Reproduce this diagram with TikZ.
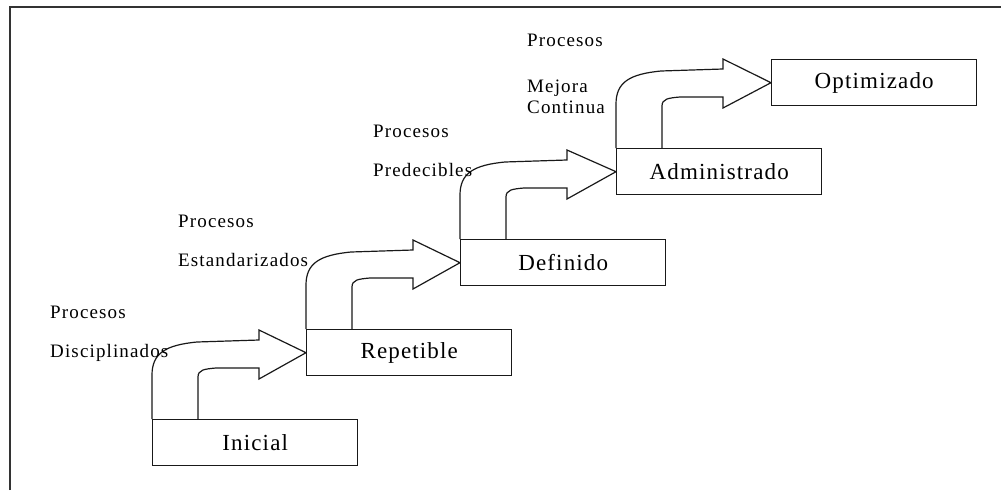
\documentclass[tikz,border=0pt]{standalone}
\usepackage{fontspec}
\setmainfont{Liberation Serif}
\newfontfamily\lblfont[LetterSpace=6]{Liberation Serif}
\newfontfamily\boxfont[LetterSpace=5]{Liberation Serif}
\usetikzlibrary{calc}

% one curved block arrow climbing from a level box to the next one
\newcommand\levelarrow[2]{%
  \begin{scope}[shift={(#1.north west)}]
    \draw[stairarrow] (0,0) -- (0,-44)
      .. controls (0,-66) and (14,-74) .. (45,-77)
      -- (107,-79) -- (107,-89) -- (#2.west) -- (107,-40) -- (107,-51)
      -- (64,-51) .. controls (52,-50) and (46,-49) .. (46,-42)
      -- (46,0);
  \end{scope}}

\begin{document}
\begin{tikzpicture}[x=1pt,y=-1pt,
  level/.style={draw=black!90, line width=1.4pt, fill=white,
    minimum width=205pt, minimum height=46pt, inner sep=0pt,
    anchor=north west, font=\boxfont\fontsize{23pt}{23pt}\selectfont},
  stairarrow/.style={draw=black!90, line width=1.2pt, line join=miter},
  note/.style={anchor=base west, inner sep=0pt,
    font=\lblfont\fontsize{19pt}{19pt}\selectfont},
  frameline/.style={draw=black!80, line width=2pt}]
\useasboundingbox (0,0) rectangle (1001,490);

% outer frame (left and top edges)
\draw[frameline] (10,490) -- (10,7) -- (1001,7);

% maturity levels
\node[level] (ini) at (152,419) {Inicial};
\node[level] (rep) at (306,329) {Repetible};
\node[level] (def) at (460,239) {Definido};
\node[level] (adm) at (616,148) {Administrado};
\node[level] (opt) at (771,59)  {Optimizado};

% arrows between levels
\levelarrow{ini}{rep}
\levelarrow{rep}{def}
\levelarrow{def}{adm}
\levelarrow{adm}{opt}

% redraw boxes so their top edges close the arrow shafts
\node[level] at (152,419) {Inicial};
\node[level] at (306,329) {Repetible};
\node[level] at (460,239) {Definido};
\node[level] at (616,148) {Administrado};
\node[level] at (771,59)  {Optimizado};

% process labels
\node[note] (p1) at (50,318) {Procesos};
\node[note] (d1) at (50,357) {Disciplinados};
\node[note] (p2) at (178,227) {Procesos};
\node[note] (d2) at (178,266) {Estandarizados};
\node[note] (p3) at (373,137) {Procesos};
\node[note] (d3) at (373,176) {Predecibles};
\node[note] (p4) at (527,46) {Procesos};
\node[note] (d4) at (527,92) {Mejora};
\node[note] (e4) at (527,113) {Continua};
\end{tikzpicture}
\end{document}
